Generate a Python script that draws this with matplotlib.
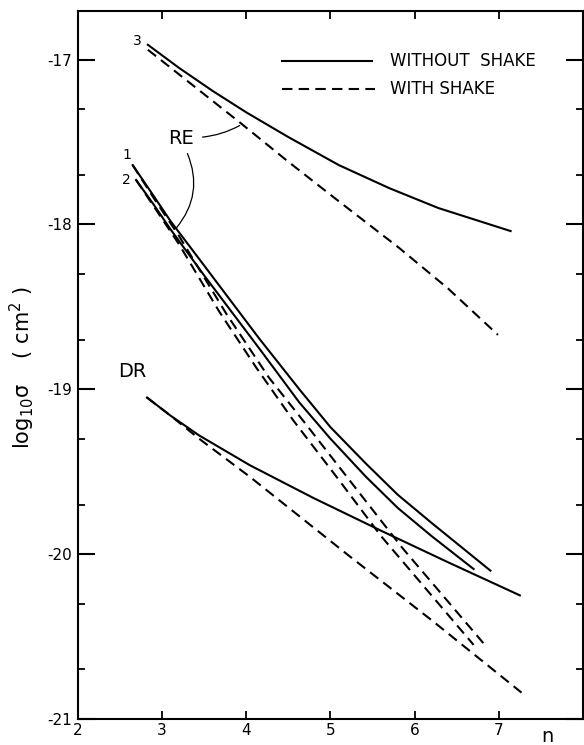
import matplotlib
matplotlib.use("Agg")
import matplotlib.pyplot as plt
import numpy as np

# ---- data ----
# RE curve 3
re3_x = [2.83, 3.2, 3.6, 4.0, 4.5, 5.10, 5.7, 6.28, 7.14]
re3_solid = [-16.91, -17.05, -17.19, -17.32, -17.47, -17.64, -17.78, -17.90, -18.04]
re3_dash_x = [2.83, 3.4, 3.92, 4.5, 5.10, 5.81, 6.4, 6.99]
re3_dash = [-16.94, -17.17, -17.38, -17.62, -17.86, -18.14, -18.39, -18.67]

# RE curve 1
re1_x = [2.65, 2.85, 3.1, 3.5, 4.15, 4.63, 5.0, 5.42, 5.8, 6.2, 6.9]
re1_solid = [-17.64, -17.79, -17.98, -18.25, -18.69, -19.00, -19.23, -19.45, -19.64, -19.81, -20.10]
re1_dash_x = [2.65, 2.9, 3.2, 3.76, 4.27, 4.69, 5.3, 5.85, 6.35, 6.85]
re1_dash = [-17.64, -17.84, -18.07, -18.54, -18.93, -19.20, -19.60, -19.96, -20.26, -20.56]

# RE curve 2
re2_x = [2.69, 2.9, 3.1, 3.5, 4.15, 4.63, 5.0, 5.42, 5.8, 6.2, 6.70]
re2_solid = [-17.73, -17.88, -18.03, -18.31, -18.75, -19.08, -19.30, -19.53, -19.72, -19.89, -20.09]
re2_dash_x = [2.69, 2.9, 3.2, 3.68, 4.12, 4.56, 5.1, 5.6, 6.2, 6.70]
re2_dash = [-17.73, -17.89, -18.12, -18.53, -18.87, -19.19, -19.55, -19.89, -20.25, -20.55]

# DR
dr_x = [2.82, 3.1, 3.44, 4.04, 4.8, 5.61, 6.4, 7.25]
dr_solid = [-19.05, -19.16, -19.28, -19.46, -19.66, -19.86, -20.05, -20.25]
dr_dash_x = [2.82, 3.1, 3.44, 4.04, 5.22, 6.2, 7.27]
dr_dash = [-19.05, -19.16, -19.30, -19.53, -20.01, -20.40, -20.84]

xticks = [2, 3, 4, 5, 6, 7]
yticks = [-21, -20, -19, -18, -17]
ytick_labels = ["-21", "-20", "-19", "-18", "-17"]

# ---- figure ----
fig = plt.figure(figsize=(5.84, 7.45), dpi=100)
L, R, T, B = 78, 583, 11, 719
W, H = 584, 745
ax = fig.add_axes([L / W, 1 - B / H, (R - L) / W, (B - T) / H])
ax.set_xlim(2, 8)
ax.set_ylim(-21, -16.705)

lw = 1.5
dash = (5, 3)
k = "black"
ax.plot(re3_x, re3_solid, color=k, lw=lw)
ax.plot(re3_dash_x, re3_dash, color=k, lw=lw, dashes=dash)
ax.plot(re1_x, re1_solid, color=k, lw=lw)
ax.plot(re1_dash_x, re1_dash, color=k, lw=lw, dashes=dash)
ax.plot(re2_x, re2_solid, color=k, lw=lw)
ax.plot(re2_dash_x, re2_dash, color=k, lw=lw, dashes=dash)
ax.plot(dr_x, dr_solid, color=k, lw=lw)
ax.plot(dr_dash_x, dr_dash, color=k, lw=lw, dashes=dash)

# ticks
ax.set_xticks(xticks)
ax.set_xticklabels([str(v) for v in xticks])
ax.set_yticks(yticks)
ax.set_yticklabels(ytick_labels)
minor = []
for m in yticks[1:]:
    minor += [m - 1 + np.log10(2), m - 1 + np.log10(5)]
ax.set_yticks(minor, minor=True)
ax.tick_params(axis="y", which="major", direction="in", length=12, width=1.5,
               left=True, right=True, labelsize=11, pad=4)
ax.tick_params(axis="y", which="minor", direction="in", length=5, width=1.3,
               left=True, right=True)
ax.tick_params(axis="x", which="major", direction="in", length=6, width=1.3,
               top=True, bottom=True, labelsize=11, pad=3)
for s in ax.spines.values():
    s.set_linewidth(1.5)

# legend drawn manually
ax.plot([0.404, 0.582], [0.929, 0.929], transform=ax.transAxes, color=k, lw=lw)
ax.plot([0.404, 0.588], [0.890, 0.890], transform=ax.transAxes, color=k, lw=lw, dashes=dash)
ax.text(0.618, 0.929, "WITHOUT  SHAKE", transform=ax.transAxes, fontsize=12, va="center", ha="left")
ax.text(0.618, 0.890, "WITH SHAKE", transform=ax.transAxes, fontsize=12, va="center", ha="left")

# labels on curves
ax.text(3.22, -17.48, "RE", fontsize=14, ha="center", va="center")
ax.text(2.65, -18.89, "DR", fontsize=14, ha="center", va="center")
ax.text(2.70, -16.89, "3", fontsize=10, ha="center", va="center")
ax.text(2.58, -17.58, "1", fontsize=10, ha="center", va="center")
ax.text(2.57, -17.73, "2", fontsize=10, ha="center", va="center")

# leader lines
ax.annotate("", xy=(3.92, -17.40), xytext=(3.48, -17.47),
            arrowprops=dict(arrowstyle="-", lw=0.9, color=k,
                            connectionstyle="arc3,rad=0.1", shrinkA=0, shrinkB=0))
ax.annotate("", xy=(3.17, -18.02), xytext=(3.30, -17.57),
            arrowprops=dict(arrowstyle="-", lw=0.9, color=k,
                            connectionstyle="arc3,rad=-0.3", shrinkA=0, shrinkB=0))

# axis labels
fig.text(22 / W, 1 - 368 / H, r"log$_{10}$σ    ( cm$^2$ )", rotation=90,
         fontsize=15, ha="center", va="center")
fig.text(547 / W, 1 - 737 / H, "n", fontsize=14, ha="center", va="center")

fig.savefig("out.png", dpi=100)
